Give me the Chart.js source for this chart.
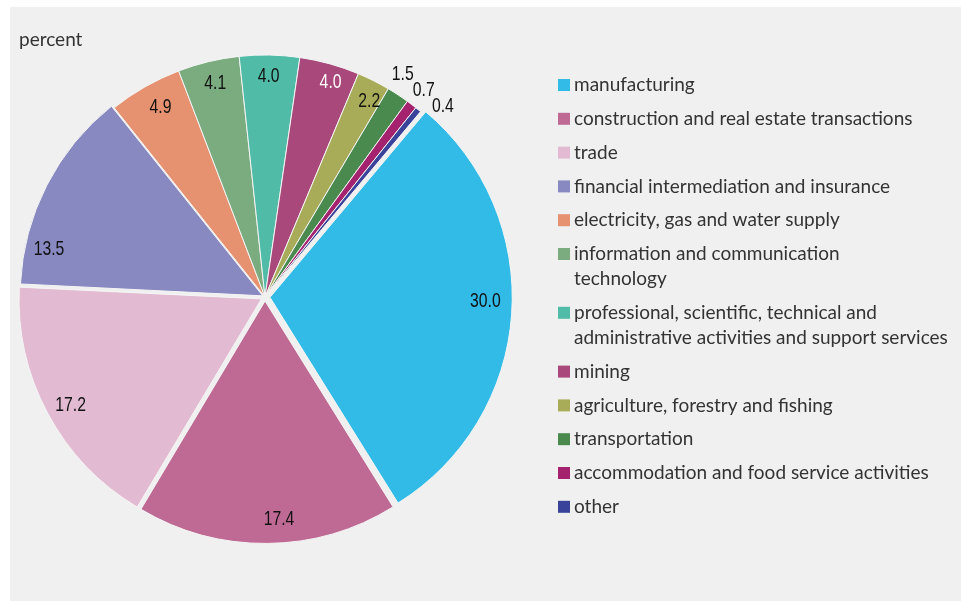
<!DOCTYPE html>
<html>
<head>
<meta charset="utf-8">
<script src="https://cdn.jsdelivr.net/npm/chart.js@4/dist/chart.umd.min.js"></script>
<style>
  html, body { margin: 0; padding: 0; background: #ffffff; }
  #panel { position: absolute; left: 10px; top: 7px; width: 951px; height: 594px; background: #f0f0f0; }
  canvas { display: block; }
</style>
</head>
<body>
<div id="panel"><canvas id="c" width="951" height="594"></canvas></div>
<script>
// ---- data ----
const categories = [
  'manufacturing',
  'construction and real estate transactions',
  'trade',
  'financial intermediation and insurance',
  'electricity, gas and water supply',
  ['information and communication', 'technology'],
  ['professional, scientific, technical and', 'administrative activities and support services'],
  'mining',
  'agriculture, forestry and fishing',
  'transportation',
  'accommodation and food service activities',
  'other'
];
const shares = [30.0, 17.4, 17.2, 13.5, 4.9, 4.1, 4.0, 4.0, 2.2, 1.5, 0.7, 0.4];
const valueLabels = ['30.0', '17.4', '17.2', '13.5', '4.9', '4.1', '4.0', '4.0', '2.2', '1.5', '0.7', '0.4'];
const unitLabel = 'percent';

// ---- styles ----
const colors = ['#31bbe6', '#bf6a94', '#e2bbd2', '#8789c0', '#e6916f', '#7aac80',
                '#50bba6', '#a9487a', '#a8ac58', '#4a8a4e', '#a4226e', '#3a439a'];
// Chart.js v4 draws offset/4 px of displacement
const sliceOffsets = [20, 16, 16, 10, 0, 0, 0, 0, 0, 0, 0, 0];
// label anchor: [fraction of slice angle, fraction of radius]
const labelAnchors = [[0.47, 0.89], [0.45, 0.90], [0.49, 0.90], [0.20, 0.905], [0.56, 0.90],
                      [0.53, 0.91], [0.49, 0.915], [0.6, 0.93], [0.66, 0.92], [0.19, 1.085],
                      [0.54, 1.08], [3.0, 1.08]];
const labelColors = ['#111', '#111', '#111', '#111', '#111', '#111', '#111', '#fff', '#111', '#111', '#111', '#111'];
const valueFont = '21px "Liberation Sans", Arimo, sans-serif';
const valueSqueeze = 0.75;
const textFont = '19px Lato, "Open Sans", sans-serif';

const labelPlugin = {
  id: 'sliceLabels',
  afterDatasetsDraw(chart) {
    const ctx = chart.ctx;
    const meta = chart.getDatasetMeta(0);
    meta.data.forEach((arc, i) => {
      const p = arc.getProps(['x', 'y', 'startAngle', 'endAngle', 'outerRadius'], true);
      const mid = (p.startAngle + p.endAngle) / 2;
      const off = (arc.options.offset || 0) / 4;
      const a = p.startAngle + (p.endAngle - p.startAngle) * labelAnchors[i][0];
      const r = p.outerRadius * labelAnchors[i][1];
      const x = p.x + Math.cos(mid) * off + Math.cos(a) * r;
      const y = p.y + Math.sin(mid) * off + Math.sin(a) * r;
      ctx.save();
      ctx.translate(x, y);
      ctx.scale(valueSqueeze, 1);
      ctx.font = valueFont;
      ctx.textAlign = 'center';
      ctx.textBaseline = 'middle';
      ctx.fillStyle = labelColors[i];
      ctx.fillText(valueLabels[i], 0, 1);
      ctx.restore();
    });
  }
};

const legendPlugin = {
  id: 'sideLegend',
  afterDraw(chart) {
    const ctx = chart.ctx;
    const ds = chart.data.datasets[0];
    const boxX = 548, textX = 564, box = 12, step = 33.8, lineH = 25;
    let y = 78;
    ctx.save();
    ctx.font = textFont;
    ctx.textBaseline = 'middle';
    ctx.textAlign = 'left';
    chart.data.labels.forEach((lab, i) => {
      const lines = Array.isArray(lab) ? lab : [lab];
      ctx.fillStyle = ds.backgroundColor[i];
      ctx.fillRect(boxX, y - box / 2, box, box);
      ctx.fillStyle = '#333333';
      lines.forEach((ln, k) => ctx.fillText(ln, textX, y + k * lineH));
      y += (lines.length - 1) * lineH + step;
    });
    ctx.fillStyle = '#333333';
    ctx.fillText(unitLabel, 9, 33);
    ctx.restore();
  }
};

new Chart(document.getElementById('c'), {
  type: 'pie',
  data: {
    labels: categories,
    datasets: [{
      data: shares,
      backgroundColor: colors,
      borderColor: '#f4f4f4',
      borderWidth: 1,
      offset: sliceOffsets,
      hoverOffset: 0
    }]
  },
  options: {
    responsive: false,
    animation: false,
    devicePixelRatio: 1,
    rotation: 40,
    radius: 242,
    layout: { padding: { left: 0, top: 0, right: 441, bottom: 14 } },
    plugins: {
      legend: { display: false },
      tooltip: { enabled: false }
    }
  },
  plugins: [labelPlugin, legendPlugin]
});
</script>
</body>
</html>
